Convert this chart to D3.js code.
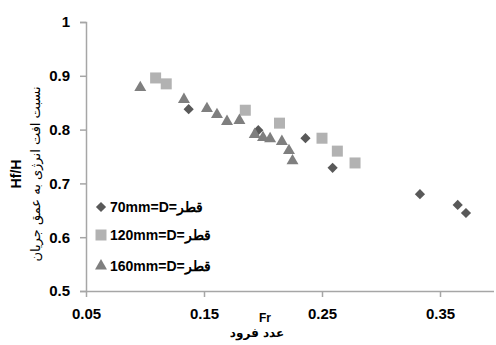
<!DOCTYPE html>
<html>
<head>
<meta charset="utf-8">
<script src="https://cdn.jsdelivr.net/npm/d3@7"></script>
<style>
  body { margin: 0; background: #fff; }
  text { font-family: "Liberation Sans", Arial, sans-serif; }
</style>
</head>
<body>
<svg id="chart" width="496" height="345"></svg>
<script>
// D = 70mm (diamonds)
const fr70 = [0.137, 0.196, 0.236, 0.259, 0.333, 0.365, 0.372];
const hf70 = [0.838, 0.799, 0.784, 0.729, 0.680, 0.660, 0.645];
// D = 120mm (squares)
const fr120 = [0.109, 0.118, 0.185, 0.214, 0.250, 0.263, 0.278];
const hf120 = [0.896, 0.885, 0.836, 0.812, 0.784, 0.760, 0.738];
// D = 160mm (triangles)
const fr160 = [0.096, 0.133, 0.1525, 0.161, 0.1695, 0.180, 0.193, 0.200, 0.206, 0.216, 0.222, 0.225];
const hf160 = [0.878, 0.856, 0.839, 0.828, 0.815, 0.817, 0.791, 0.785, 0.783, 0.778, 0.761, 0.742];

const xTicks = [0.05, 0.15, 0.25, 0.35];
const yTicks = [0.5, 0.6, 0.7, 0.8, 0.9, 1];
const legendLabels = ['70mm=D=قطر', '120mm=D=قطر', '160mm=D=قطر'];

const svg = d3.select('#chart');

const x = d3.scaleLinear().domain([0.05, 0.4]).range([86, 499]);
const y = d3.scaleLinear().domain([0.5, 1]).range([291, 22]);

const axisColor = '#a6a6a6';

// y axis
const yAxis = svg.append('g')
  .attr('transform', 'translate(' + x(0.05) + ',0)')
  .call(d3.axisLeft(y).tickValues(yTicks).tickSize(6).tickPadding(10)
    .tickFormat(d => d === 1 ? '1' : d3.format('.1f')(d)));
yAxis.select('.domain').attr('stroke', axisColor).attr('stroke-width', 1.5);
yAxis.selectAll('.tick line').attr('stroke', axisColor).attr('stroke-width', 1.5);
yAxis.selectAll('.tick text')
  .attr('fill', '#000')
  .style('font-size', '15px')
  .style('font-weight', 'bold')
  .style('font-family', '"Liberation Sans", Arial, sans-serif');

// x axis
const xAxis = svg.append('g')
  .attr('transform', 'translate(0,' + y(0.5) + ')')
  .call(d3.axisBottom(x).tickValues(xTicks).tickSize(6).tickSizeOuter(0).tickPadding(11)
    .tickFormat(d3.format('.2f')));
xAxis.select('.domain').attr('stroke', axisColor).attr('stroke-width', 1.5)
  .attr('d', 'M' + x(0.05) + ',0.5H494');
xAxis.selectAll('.tick line').attr('stroke', axisColor).attr('stroke-width', 1.5);
xAxis.selectAll('.tick text')
  .attr('fill', '#000')
  .style('font-size', '15px')
  .style('font-weight', 'bold')
  .style('font-family', '"Liberation Sans", Arial, sans-serif');

// markers
const series = [
  { xs: fr70, ys: hf70, sym: d3.symbolSquare, size: 52, rot: 45, fill: '#595959' },
  { xs: fr120, ys: hf120, sym: d3.symbolSquare, size: 121, rot: 0, fill: '#b2b2b2' },
  { xs: fr160, ys: hf160, sym: d3.symbolTriangle, size: 62, rot: 0, fill: '#7f7f7f' }
];

series.forEach(s => {
  const pts = s.xs.map((v, i) => [v, s.ys[i]]);
  svg.append('g').selectAll('path')
    .data(pts)
    .join('path')
    .attr('d', d3.symbol().type(s.sym).size(s.size))
    .attr('transform', d => 'translate(' + x(d[0]) + ',' + y(d[1]) + ') rotate(' + s.rot + ')')
    .attr('fill', s.fill);
});

// legend
const legendY = [207, 235, 266];
const legend = svg.append('g');
series.forEach((s, i) => {
  legend.append('path')
    .attr('d', d3.symbol().type(s.sym).size(s.size))
    .attr('transform', 'translate(101,' + legendY[i] + ') rotate(' + s.rot + ')')
    .attr('fill', s.fill);
  legend.append('text')
    .attr('x', 110)
    .attr('y', legendY[i] + 5)
    .attr('direction', 'ltr')
    .style('font-size', '14px')
    .style('font-weight', 'bold')
    .text(legendLabels[i]);
});

// axis titles
svg.append('text')
  .attr('transform', 'translate(21,174) rotate(-90)')
  .attr('text-anchor', 'middle')
  .style('font-size', '14px')
  .style('font-weight', 'bold')
  .text('Hf/H');

svg.append('text')
  .attr('transform', 'translate(40,174) rotate(-90)')
  .attr('text-anchor', 'middle')
  .style('font-size', '13px')
  .style('font-family', '"DejaVu Sans", sans-serif')
  .text('نسبت افت انرژی به عمق جریان');

svg.append('text')
  .attr('x', 265)
  .attr('y', 322)
  .attr('text-anchor', 'middle')
  .style('font-size', '12px')
  .style('font-weight', 'bold')
  .text('Fr');

svg.append('text')
  .attr('x', 257)
  .attr('y', 337)
  .attr('text-anchor', 'middle')
  .style('font-size', '12px')
  .style('font-weight', 'bold')
  .style('font-family', '"DejaVu Sans", sans-serif')
  .text('عدد فرود');
</script>
</body>
</html>
